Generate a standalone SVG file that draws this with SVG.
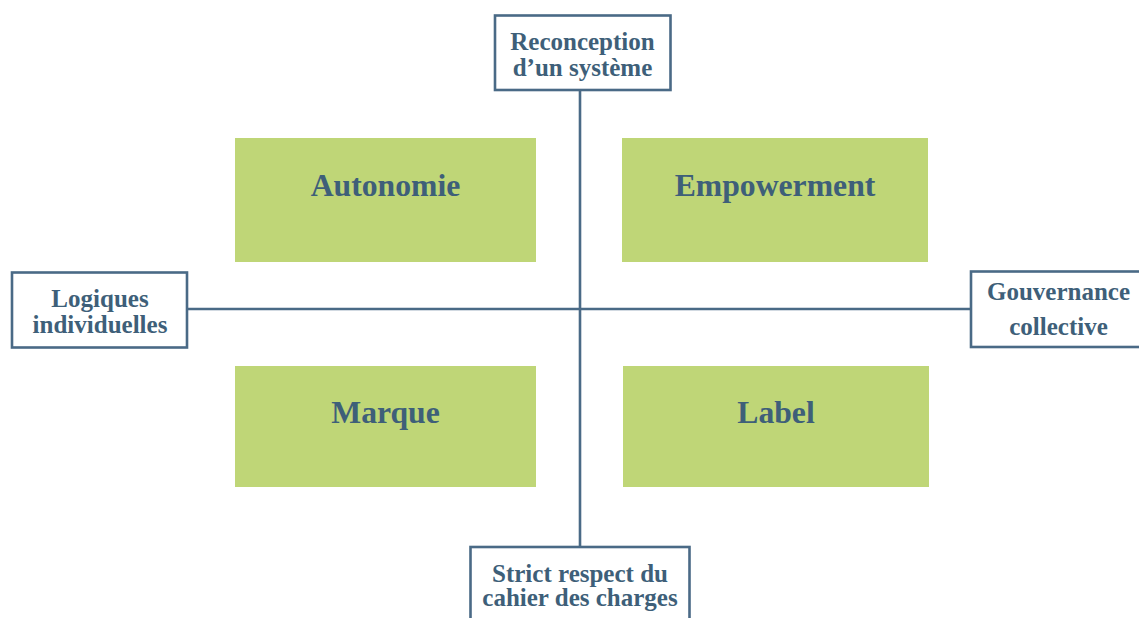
<svg xmlns="http://www.w3.org/2000/svg" width="1139" height="618" viewBox="0 0 1139 618">
<style>
.ax{stroke:#4a6a86;stroke-width:2.6;fill:none}
.box{fill:#ffffff;stroke:#4a6a86;stroke-width:2.6}
.q{fill:#bfd677}
.t{font-family:"Liberation Serif","Times New Roman",serif;font-weight:bold;fill:#3e5f79;text-anchor:middle}
.s{font-size:25px}
.b{font-size:31.7px}
</style>
<rect width="1139" height="618" fill="#ffffff"/>
<g id="connectors">
<line class="ax" x1="580" y1="90" x2="580" y2="547"/>
<line class="ax" x1="187" y1="309" x2="971" y2="309"/>
</g>
<g id="autonomie">
<rect class="q" x="235" y="138" width="301" height="124"/>
<text class="t b" x="385.5" y="196">Autonomie</text>
</g>
<g id="empowerment">
<rect class="q" x="622" y="138" width="306" height="124"/>
<text class="t b" x="775" y="196">Empowerment</text>
</g>
<g id="marque">
<rect class="q" x="235" y="366" width="301" height="121"/>
<text class="t b" x="385.5" y="422.5">Marque</text>
</g>
<g id="label">
<rect class="q" x="623" y="366" width="306" height="121"/>
<text class="t b" x="776" y="422.5">Label</text>
</g>
<g id="reconception">
<rect class="box" x="495" y="15.5" width="175.5" height="74.5"/>
<text class="t s" x="582.5" y="50">Reconception</text>
<text class="t s" x="582.5" y="76">d’un système</text>
</g>
<g id="logiques">
<rect class="box" x="12" y="272.5" width="175" height="75"/>
<text class="t s" x="100" y="306.5">Logiques</text>
<text class="t s" x="100" y="332.5">individuelles</text>
</g>
<g id="gouvernance">
<rect class="box" x="971" y="271.5" width="176" height="75.5"/>
<text class="t s" x="1058.5" y="300">Gouvernance</text>
<text class="t s" x="1058.5" y="335">collective</text>
</g>
<g id="strict">
<rect class="box" x="470.5" y="547" width="219" height="80"/>
<text class="t s" x="580" y="581.5">Strict respect du</text>
<text class="t s" x="580" y="606">cahier des charges</text>
</g>
</svg>
